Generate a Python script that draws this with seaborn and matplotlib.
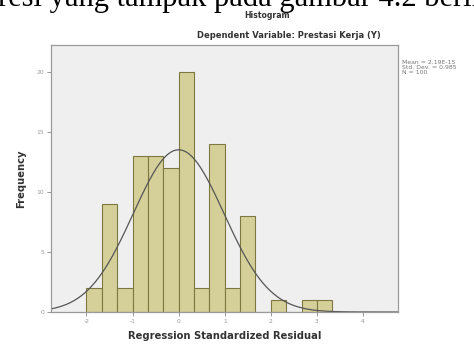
import numpy as np
import pandas as pd
import matplotlib
matplotlib.use('Agg')
import matplotlib.pyplot as plt
import seaborn as sns

# --- data ---
bin_edges = [-2.0, -5/3, -4/3, -1.0, -2/3, -1/3, 0.0, 1/3, 2/3, 1.0,
             4/3, 5/3, 2.0, 7/3, 8/3, 3.0, 10/3]
counts = [2, 9, 2, 13, 13, 12, 20, 2, 14, 2, 8, 0, 1, 0, 1, 1]
x_ticks = [-2, -1, 0, 1, 2, 3, 4]
y_ticks = [0, 5, 10, 15, 20]
resid_mean = 0.0
resid_sd = 0.985
n_obs = 100
stats_text = ['Mean = 2.19E-15', 'Std. Dev. = 0.985', 'N = 100']

centers = [(a + b) / 2 for a, b in zip(bin_edges[:-1], bin_edges[1:])]
df = pd.DataFrame({'resid': centers, 'n': counts})

sns.set_style('white')
fig = plt.figure(figsize=(4.74, 3.44), dpi=100)
ax = fig.add_axes([0.1076, 0.093, 0.7321, 0.7776])
ax.set_facecolor('#efefef')

sns.histplot(data=df, x='resid', weights='n', bins=bin_edges, ax=ax,
             color='#d5d099', edgecolor='#7d7840', linewidth=0.8, alpha=1)

# fitted normal curve
bw = bin_edges[1] - bin_edges[0]
xs = np.linspace(-2.77, 4.76, 300)
ys = n_obs * bw * np.exp(-0.5 * ((xs - resid_mean) / resid_sd) ** 2) / (resid_sd * np.sqrt(2 * np.pi))
sns.lineplot(x=xs, y=ys, ax=ax, color='#555555', linewidth=0.9)

ax.set_xlim(-2.77, 4.76)
ax.set_ylim(0, 22.26)
ax.set_xticks(x_ticks)
ax.set_xticklabels([str(t) for t in x_ticks])
ax.set_yticks(y_ticks)
ax.set_yticklabels([str(t) for t in y_ticks])
ax.tick_params(axis='both', direction='out', length=3, width=0.6,
               colors='#888888', labelsize=4.3, pad=2, labelcolor='#999999')
ax.tick_params(left=True, bottom=True)
for s in ax.spines.values():
    s.set_color('#9a9a9a')
    s.set_linewidth(0.9)

ax.set_xlabel('Regression Standardized Residual', fontsize=7.2,
              fontweight='bold', color='#333333', labelpad=5)
ax.set_ylabel('Frequency', fontsize=7.2, fontweight='bold',
              color='#333333', labelpad=7)

fig.text(0.563, 1 - 16 / 344, 'Histogram', ha='center', va='center',
         fontsize=5.6, fontweight='bold', color='#333333')
fig.text(0.61, 0.898, 'Dependent Variable: Prestasi Kerja (Y)', ha='center',
         va='center', fontsize=6, fontweight='bold', color='#333333')

for i, line in enumerate(stats_text):
    fig.text(0.848, 1 - (62 + 5.5 * i) / 344, line, ha='left', va='center',
             fontsize=4.4, color='#777777')

# page text cut off above the pasted chart
fig.text(-0.005, 1 - 6 / 344, 'resi yang tampak pada gambar 4.2 berikut',
         ha='left', va='baseline', fontsize=22, family='Liberation Serif',
         color='black')

plt.savefig('out.png', dpi=100)
